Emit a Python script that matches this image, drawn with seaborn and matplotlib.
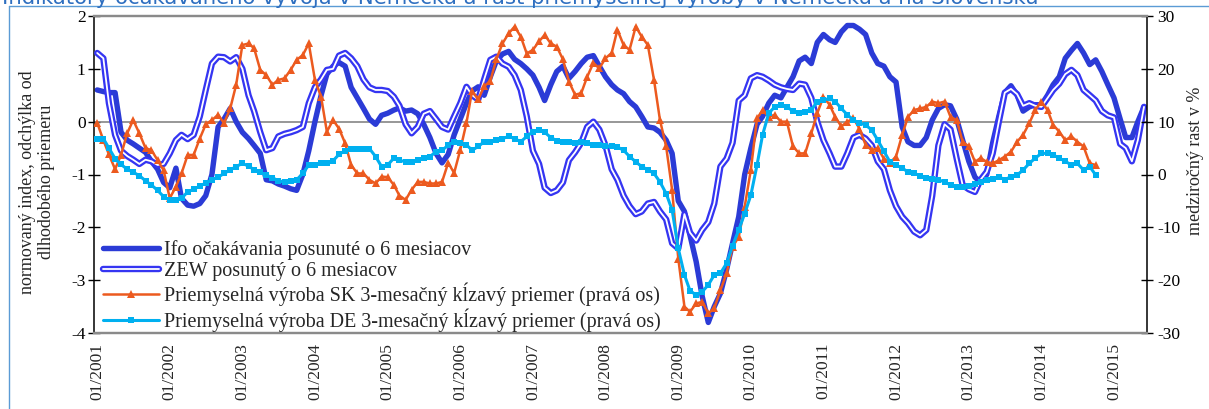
import pandas as pd
import matplotlib
matplotlib.use('Agg')
import matplotlib.pyplot as plt
import matplotlib.dates as mdates
import matplotlib.patheffects as pe
from matplotlib.lines import Line2D
import seaborn as sns

# left axis: normalized indices (shifted by 6 months), monthly from 01/2001
ifo = [0.60, 0.57, 0.55, 0.55, -0.20, -0.35, -0.42, -0.50, -0.58, -0.75, -0.90, -1.15,
       -1.25, -0.88, -1.45, -1.58, -1.60, -1.55, -1.40, -1.00, -0.10, 0.05, 0.25, 0.00,
       -0.20, -0.32, -0.45, -0.60, -1.10, -1.12, -1.18, -1.22, -1.27, -1.30, -1.00, -0.55,
       0.00, 0.50, 0.90, 1.05, 1.12, 1.05, 0.65, 0.45, 0.25, 0.05, -0.05, 0.12,
       0.16, 0.22, 0.26, 0.20, 0.22, 0.15, -0.05, -0.30, -0.60, -0.78, -0.62, -0.25,
       0.05, 0.35, 0.58, 0.66, 0.50, 0.85, 1.15, 1.28, 1.33, 1.18, 1.10, 1.00,
       0.88, 0.65, 0.40, 0.70, 0.95, 1.05, 0.82, 0.95, 1.10, 1.22, 1.25, 1.05,
       0.85, 0.70, 0.60, 0.53, 0.38, 0.28, 0.10, -0.10, -0.12, -0.20, -0.35, -0.60,
       -1.50, -1.70, -2.15, -2.65, -3.30, -3.80, -3.50, -3.25, -2.80, -2.30, -1.80, -1.00,
       -0.50, -0.05, 0.10, 0.35, 0.50, 0.45, 0.65, 0.85, 1.15, 1.22, 1.10, 1.50,
       1.65, 1.55, 1.50, 1.70, 1.82, 1.82, 1.75, 1.65, 1.30, 1.10, 1.05, 0.85,
       0.75, -0.10, -0.38, -0.45, -0.45, -0.30, 0.03, 0.25, 0.32, 0.30, 0.05, -0.35,
       -0.75, -1.05, -1.15, -1.00, -0.40, 0.10, 0.55, 0.68, 0.50, 0.20, 0.28, 0.32,
       0.32, 0.50, 0.70, 0.85, 1.20, 1.35, 1.48, 1.30, 1.08, 1.17, 0.95, 0.70,
       0.45, 0.05, -0.30, -0.30, 0.00, 0.28]

zew = [1.30, 1.20, 0.35, -0.25, -0.55, -0.65, -0.72, -0.80, -0.72, -0.75, -0.82, -0.80,
       -0.60, -0.35, -0.25, -0.33, -0.25, 0.10, 0.60, 1.10, 1.23, 1.22, 1.14, 1.22,
       1.00, 0.50, 0.20, -0.20, -0.54, -0.50, -0.28, -0.23, -0.20, -0.16, -0.10, 0.35,
       0.65, 0.80, 0.98, 1.00, 1.25, 1.30, 1.20, 1.05, 0.80, 0.65, 0.60, 0.60,
       0.58, 0.47, 0.30, -0.05, -0.22, -0.10, 0.15, 0.20, 0.05, -0.10, -0.15, 0.10,
       0.35, 0.66, 0.50, 0.42, 0.80, 1.17, 1.23, 1.10, 1.04, 0.88, 0.60, 0.10,
       -0.55, -0.80, -1.25, -1.35, -1.30, -1.15, -0.73, -0.58, -0.40, -0.10, 0.00, -0.15,
       -0.45, -0.90, -1.10, -1.40, -1.60, -1.75, -1.70, -1.55, -1.52, -1.70, -1.85, -2.30,
       -2.40, -1.75, -2.10, -2.25, -2.05, -1.90, -1.55, -0.85, -0.70, -0.40, 0.40, 0.50,
       0.82, 0.88, 0.85, 0.78, 0.70, 0.65, 0.62, 0.60, 0.72, 0.70, 0.45, 0.00,
       -0.35, -0.60, -0.85, -0.85, -0.60, -0.30, -0.25, -0.32, -0.45, -0.75, -0.90, -1.30,
       -1.60, -1.80, -1.92, -2.08, -2.15, -2.05, -1.40, -0.45, -0.05, -0.15, -0.70, -1.20,
       -1.28, -1.33, -1.10, -0.95, -0.60, 0.00, 0.55, 0.62, 0.52, 0.30, 0.35, 0.30,
       0.28, 0.45, 0.60, 0.72, 0.90, 0.98, 0.88, 0.60, 0.50, 0.40, 0.20, 0.12,
       0.08, -0.42, -0.50, -0.75, -0.35, 0.28]

# right axis: industrial production y/y, 3-month moving average
sk = [9.8, 6.5, 3.8, 1.0, 3.7, 7.8, 10.3, 7.8, 5.0, 4.6, 2.7, 0.8,
      -4.5, -2.3, 0.2, 3.7, 3.7, 6.8, 9.5, 10.3, 11.3, 9.7, 12.5, 17.0,
      24.5, 24.8, 23.9, 19.8, 18.8, 17.0, 17.9, 18.2, 19.8, 21.7, 22.6, 24.8,
      17.9, 14.7, 8.1, 10.3, 8.7, 5.9, 1.8, 0.2, 0.2, -1.0, -1.7, -0.4,
      -0.5, -2.0, -4.0, -4.8, -2.9, -1.4, -1.4, -1.7, -1.7, -1.4, 2.2, 0.3,
      4.7, 9.8, 15.8, 14.2, 16.7, 17.7, 21.8, 24.8, 26.7, 28.0, 26.1, 22.9,
      23.6, 25.2, 26.4, 24.8, 24.2, 21.8, 17.6, 15.1, 15.4, 18.5, 21.1, 20.1,
      22.0, 23.0, 27.4, 24.5, 23.6, 28.0, 26.1, 24.5, 17.9, 10.3, 5.3, -2.9,
      -15.9, -25.0, -26.0, -24.4, -24.1, -26.3, -25.3, -21.9, -18.7, -13.7, -11.8, -6.1,
      0.9, 10.6, 12.2, 10.9, 11.3, 10.0, 10.0, 5.3, 4.0, 4.0, 7.8, 11.6,
      14.7, 13.2, 10.9, 9.1, 10.0, 10.6, 8.7, 5.6, 4.6, 5.0, 3.0, 2.2,
      3.4, 7.5, 10.9, 12.2, 12.5, 12.8, 13.8, 13.5, 13.8, 10.9, 10.3, 6.2,
      5.3, 2.4, 3.1, 2.4, 2.1, 2.7, 3.4, 4.3, 6.2, 7.5, 9.7, 12.2,
      13.8, 12.2, 9.4, 8.1, 6.5, 7.2, 6.2, 5.3, 2.1, 1.8]

de = [6.8, 6.8, 5.0, 3.0, 1.9, 1.0, 0.4, -0.2, -1.2, -2.0, -3.0, -4.2,
      -4.8, -4.8, -4.5, -3.3, -2.8, -2.2, -1.6, -1.0, -0.5, 0.2, 0.85, 1.5,
      2.1, 1.6, 0.9, 0.4, -0.1, -0.6, -1.2, -1.4, -1.3, -1.0, 0.2, 1.8,
      1.8, 2.1, 2.1, 2.6, 3.8, 4.5, 4.9, 4.9, 4.9, 4.9, 3.4, 1.5,
      1.8, 3.1, 2.7, 2.4, 2.4, 2.7, 3.1, 3.4, 4.3, 4.6, 5.5, 6.2,
      5.9, 5.6, 4.6, 5.3, 6.2, 6.2, 6.5, 6.8, 7.2, 6.8, 6.2, 7.2,
      8.1, 8.4, 8.0, 7.0, 6.4, 6.2, 6.2, 5.9, 6.2, 5.9, 5.6, 5.6,
      5.3, 5.3, 5.2, 4.6, 3.4, 2.4, 1.5, 0.9, 0.2, -1.4, -3.6, -6.7,
      -14.0, -19.0, -22.0, -22.8, -22.2, -20.9, -19.0, -18.7, -16.8, -13.5, -10.5, -7.4,
      -3.9, 1.8, 7.5, 11.6, 12.8, 13.2, 12.8, 12.0, 11.6, 11.9, 12.2, 13.8,
      14.1, 14.4, 13.8, 12.5, 11.3, 10.3, 9.7, 9.4, 8.4, 6.5, 4.4, 2.4,
      1.8, 1.2, 0.5, 0.2, -0.2, -0.6, -0.8, -1.0, -1.4, -2.0, -2.3, -2.3,
      -2.1, -1.8, -1.5, -1.1, -0.8, -0.4, -1.0, -0.4, -0.1, 0.85, 2.1, 3.1,
      4.0, 4.0, 3.7, 3.1, 2.5, 1.8, 2.1, 0.85, 1.5, -0.1]

labels = ['Ifo očakávania posunuté o 6 mesiacov',
          'ZEW posunutý o 6 mesiacov',
          'Priemyselná výroba SK 3-mesačný kĺzavý priemer (pravá os)',
          'Priemyselná výroba DE 3-mesačný kĺzavý priemer (pravá os)']
title = 'Indikátory očakávaného vývoja v Nemecku a rast priemyselnej výroby v Nemecku a na Slovensku'

months = pd.date_range('2001-01-01', periods=len(ifo), freq='MS')
months_ip = months[:len(sk)]

sns.set_style('white')
plt.rcParams['font.family'] = ['Liberation Serif', 'DejaVu Serif']
plt.rcParams['axes.unicode_minus'] = False

W, H = 1209, 409
fig = plt.figure(figsize=(W / 100, H / 100), dpi=100)
L, R, T, B = 94, 1147, 16, 333
ax = fig.add_axes([L / W, 1 - B / H, (R - L) / W, (B - T) / H])
ax2 = ax.twinx()

ifo_c = '#2b3bd6'
zew_c = '#3535f2'
sk_c = '#ec5a1f'
de_c = '#00b0f0'

ax.axhline(0, color='#7a7a7a', lw=1.1, zorder=1)
sns.lineplot(x=months, y=ifo, ax=ax, color=ifo_c, lw=3.9, legend=False, zorder=2)
sns.lineplot(x=months, y=zew, ax=ax, color='white', lw=1.3, legend=False, zorder=3,
             path_effects=[pe.Stroke(linewidth=4.6, foreground=zew_c), pe.Normal()])
sns.lineplot(x=months_ip, y=sk, ax=ax2, color=sk_c, lw=1.8, marker='^', markersize=6,
             markeredgewidth=0, legend=False)
sns.lineplot(x=months_ip, y=de, ax=ax2, color=de_c, lw=2.2, marker='s', markersize=4.5,
             markeredgewidth=0, legend=False)

ax.set_ylim(-4, 2)
ax2.set_ylim(-30, 30)
ax.set_yticks(range(-4, 3))
ax2.set_yticks(range(-30, 31, 10))
ax.set_xlim(pd.Timestamp('2000-12-16'), pd.Timestamp('2015-06-16'))
ax.xaxis.set_major_locator(mdates.YearLocator(1, month=1, day=1))
ax.xaxis.set_major_formatter(mdates.DateFormatter('%m/%Y'))
ax.set_xlabel('')
ax.set_ylabel('')
ax2.set_ylabel('')

ax.tick_params(axis='x', length=0, pad=7, labelsize=12.5, labelrotation=90)
ax.tick_params(axis='y', direction='inout', length=9, width=1, pad=1.5, labelsize=12.5, colors='black')
ax2.tick_params(axis='y', direction='inout', length=9, width=1, pad=3, labelsize=12.5, colors='black')

for a in (ax, ax2):
    for s in ('top', 'bottom'):
        a.spines[s].set_color('#8a8a8a')
        a.spines[s].set_linewidth(1.6)
    a.spines['left'].set_color('black')
    a.spines['right'].set_color('black')
    a.spines['left'].set_linewidth(1.1)
    a.spines['right'].set_linewidth(1.1)
ax2.spines['left'].set_visible(False)
ax.spines['right'].set_visible(False)
ax.grid(False)
ax2.grid(False)

fig.text(37 / W, 1 - 182 / H, 'normovaný index, odchýlka od\ndlhodobého priemeru', rotation=90,
         ha='center', va='center', multialignment='center', linespacing=1.2, fontsize=13)
fig.text(1195 / W, 1 - 161 / H, 'medziročný rast v %', rotation=90,
         ha='center', va='center', fontsize=13)

handles = [Line2D([], [], color=ifo_c, lw=3.9),
           Line2D([], [], color='white', lw=1.3,
                  path_effects=[pe.Stroke(linewidth=4.6, foreground=zew_c), pe.Normal()]),
           Line2D([], [], color=sk_c, lw=1.8, marker='^', markersize=6, markeredgewidth=0),
           Line2D([], [], color=de_c, lw=2.2, marker='s', markersize=4.5, markeredgewidth=0)]
ax2.legend(handles, labels, loc='lower left', bbox_to_anchor=(8 / (R - L), 0.0),
           frameon=False, fontsize=14.5, handlelength=2.8, handletextpad=0.25,
           labelspacing=0.1, borderpad=0.0, borderaxespad=0.05)

# cut-off title and blue frame of the original slide
fig.text(2 / W, 1 - 3.5 / H, title, color='#2e6fc0', fontsize=15.3, family='DejaVu Sans',
         ha='left', va='baseline')
fig.add_artist(Line2D([9 / W, 1], [1 - 6 / H, 1 - 6 / H], color='#5b9bd5', lw=1.0))
fig.add_artist(Line2D([9 / W, 9 / W], [0, 1 - 6 / H], color='#5b9bd5', lw=1.0))

fig.savefig('out.png', dpi=100)
